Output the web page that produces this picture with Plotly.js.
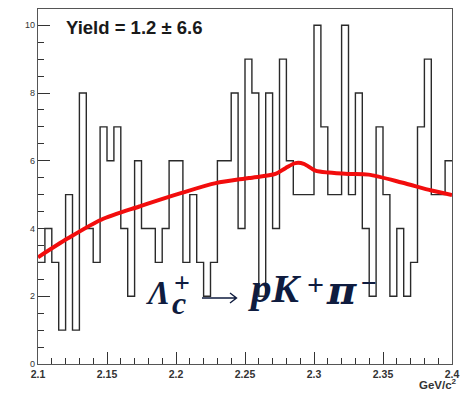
<!DOCTYPE html>
<html>
<head>
<meta charset="utf-8">
<script src="https://cdn.plot.ly/plotly-3.0.1.min.js"></script>
<style>html,body{margin:0;padding:0;background:#fff;}#chart{width:460px;height:394px;}</style>
</head>
<body>
<div id="chart"></div>
<script>
// ---- data ----
const binLow = 2.1;
const binWidth = 0.005;
const counts = [3,4,3,1,5,1,8,4,3,7, 6,7,4,2,6,4,4,3,4,6, 6,3,5,3,2,3,6,6,8,4, 9,8,2,8,4,9,6,5,5,5, 10,7,5,5,10,5,8,4,2,7, 5,2,4,2,3,7,9,5,5,6];
const fitX = [2.100,2.1217,2.1458,2.1734,2.1807,2.2047,2.2288,2.2528,2.2721,2.2793,2.2865,2.2926,2.3010,2.3106,2.3250,2.3395,2.3635,2.3852,2.400];
const fitY = [3.15,3.71,4.26,4.65,4.75,5.06,5.34,5.49,5.61,5.78,5.93,5.91,5.71,5.65,5.61,5.59,5.36,5.12,4.99];
const yieldText = "Yield = 1.2 \u00b1 6.6";
const xUnit = "GeV/c<sup>2</sup>";

// ---- build histogram step from bins ----
const histX = counts.map((_, i) => binLow + i * binWidth);
histX.push(binLow + counts.length * binWidth);
const histY = counts.slice();
histY.push(counts[counts.length - 1]);

// ---- layout helpers (pixel -> paper) ----
const L = 38, R = 452, T = 9, B = 364;
const px = x => (x - L) / (R - L);
const py = y => (B - y) / (B - T);
const navy = "#0f1c3f";
const serif = "Liberation Serif, Times New Roman, serif";

function ann(text, x, y, size, fam) {
  return {
    text: text, xref: "paper", yref: "paper", x: px(x), y: py(y),
    xanchor: "left", yanchor: "middle", showarrow: false,
    font: {family: fam || serif, size: size, color: navy}
  };
}

const traces = [
  {x: histX, y: histY, type: "scatter", mode: "lines",
   line: {shape: "hv", color: "#2a2a2a", width: 1.4}, hoverinfo: "skip"},
  {x: fitX, y: fitY, type: "scatter", mode: "lines",
   line: {shape: "spline", smoothing: 0.8, color: "#f20d0d", width: 4}, hoverinfo: "skip"}
];

const axisCommon = {
  showgrid: false, zeroline: false, showline: true, mirror: true,
  linecolor: "#555", linewidth: 1.2, ticks: "inside", tickcolor: "#333",
  tickwidth: 1, ticklen: 12
};

const layout = {
  width: 460, height: 394,
  margin: {l: L, r: 460 - R, t: T, b: 394 - B},
  paper_bgcolor: "#fff", plot_bgcolor: "#fff",
  showlegend: false,
  xaxis: Object.assign({}, axisCommon, {
    range: [2.1, 2.4], tickmode: "linear", tick0: 2.1, dtick: 0.05,
    minor: {dtick: 0.01, ticklen: 6, ticks: "inside", tickcolor: "#333"},
    tickfont: {family: "Liberation Sans, Arial, sans-serif", size: 10.5, color: "#333", weight: "bold"}
  }),
  yaxis: Object.assign({}, axisCommon, {
    range: [0, 10.48], tickmode: "linear", tick0: 0, dtick: 2,
    minor: {dtick: 0.5, ticklen: 6, ticks: "inside", tickcolor: "#333"},
    tickfont: {family: "Liberation Sans, Arial, sans-serif", size: 9, color: "#333"}
  }),
  annotations: [
    {text: "<b>" + yieldText + "</b>", xref: "paper", yref: "paper", x: px(64), y: py(27.5),
     xanchor: "left", yanchor: "middle", showarrow: false,
     font: {family: "Liberation Sans, Arial, sans-serif", size: 18.5, color: "#1a1a1a"}},
    {text: "<b>" + xUnit + "</b>", xref: "paper", yref: "paper", x: px(459), y: py(384),
     xanchor: "right", yanchor: "middle", showarrow: false,
     font: {family: "Liberation Sans, Arial, sans-serif", size: 11.5, color: "#333"}},
    ann("<b><i>\u039b</i></b>", 144, 293, 33),
    ann("<b>+</b>", 172, 282, 28),
    ann("<b><i>c</i></b>", 170, 303, 32),
    ann("<b><i>pK</i></b>", 246, 288, 41),
    ann("<b>+</b>", 305, 284, 30),
    ann("<b><i>\u03c0</i></b>", 324, 289, 40, "DejaVu Serif, serif"),
    ann("<b>\u2212</b>", 359, 282, 28)
  ],
  shapes: [
    {type: "path", xref: "paper", yref: "paper",
     path: "M " + px(202) + " " + py(298) + " L " + px(236) + " " + py(298) +
           " M " + px(230) + " " + py(293) + " L " + px(236.5) + " " + py(298) + " L " + px(230) + " " + py(303),
     line: {color: navy, width: 1.4}}
  ]
};

Plotly.newPlot("chart", traces, layout, {displayModeBar: false, staticPlot: true});
</script>
</body>
</html>
